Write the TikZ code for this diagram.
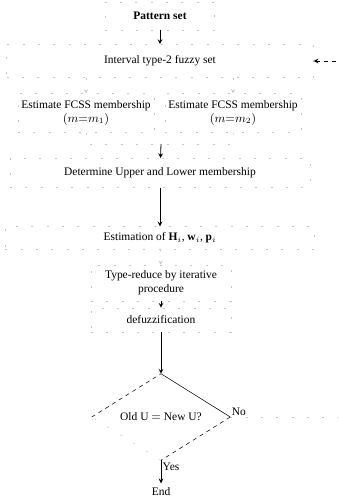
\documentclass[tikz,border=0pt]{standalone}
\usepackage{fontspec}
\setmainfont{Liberation Serif}
\usepackage{amsmath}
\usetikzlibrary{positioning,shapes.geometric}

\begin{document}
\begin{tikzpicture}[x=0.75pt, y=-0.75pt, >=stealth,
  block/.style={rectangle, draw=black!22, dash pattern=on 1.5pt off 10pt, minimum height=21pt, align=center, inner sep=1.5pt},
  ghost/.style={draw=black!22, dash pattern=on 1.5pt off 10pt},
  flow/.style={->, semithick},
  font=\fontsize{8.6}{10.5}\selectfont]

  \useasboundingbox (0,0) rectangle (339,501);

  % Nodes
  \node[block, minimum width=82pt] (Pattern) at (160,16) {\textbf{Pattern set}};
  \node[block, minimum width=230pt, minimum height=25pt] (Interval) at (160,61) {Interval type-2 fuzzy set};
  \node[block, minimum width=102pt, minimum height=29pt] (FcssA) at (86,113) {Estimate FCSS membership\\$(m{=}m_1)$};
  \node[block, minimum width=102pt, minimum height=29pt] (FcssB) at (233,113) {Estimate FCSS membership\\$(m{=}m_2)$};
  \coordinate (Merge) at (161,144);
  \node[block, minimum width=225pt, minimum height=22pt] (Bound) at (160,173) {Determine Upper and Lower membership};
  \node[block, minimum width=232pt, minimum height=17pt] (Param) at (160,238) {Estimation of $\mathbf{H}_i$, $\mathbf{w}_i$, $\mathbf{p}_i$};
  \node[block, minimum width=105pt, minimum height=27pt] (Reduce) at (161,283) {Type-reduce by iterative\\procedure};
  \node[block, minimum width=105pt, minimum height=18pt] (Defuzz) at (161,320) {defuzzification};
  \node[diamond, aspect=1.6, inner sep=0pt, minimum width=103.5pt, minimum height=64.5pt] (Check) at (161,417) {Old U $=$ New U?};
  \node (End) at (161,492) {End};
  \coordinate (Back) at (352,417);
  \coordinate (Loop) at (Back |- Interval.east);

  % Paths / Edges
  \draw[flow] (Pattern) -- (Interval);
  \draw[ghost, ->] (Interval.south -| FcssA) -- (FcssA);
  \draw[ghost, ->] (Interval.south -| FcssB) -- (FcssB);
  \draw[ghost] (FcssA.south) |- (Merge) -| (FcssB.south);
  \draw[flow] (Merge) -- (Bound);
  \draw[flow] (Bound) -- (Param);
  \draw[ghost, ->] (Param) -- (Reduce);
  \draw[flow] (Reduce) -- (Defuzz);
  \draw[flow] (Defuzz) -- (Check);

  % decision outline
  \draw (Check.north) -- (Check.east);
  \draw[dashed] (Check.east) -- (Check.south);
  \draw[ghost] (Check.south) -- (Check.west);
  \draw[dashed] (Check.west) -- (Check.north);

  \draw[flow] (Check) -- node[right, pos=0.3, inner sep=1pt] {Yes} (End);
  \draw[ghost] (Check.east) -- node[pos=0, above right, inner sep=1pt] {No} (Back) -- (Loop);
  \draw[flow, dashed] (Loop) -- (Interval.east);

\end{tikzpicture}
\end{document}
